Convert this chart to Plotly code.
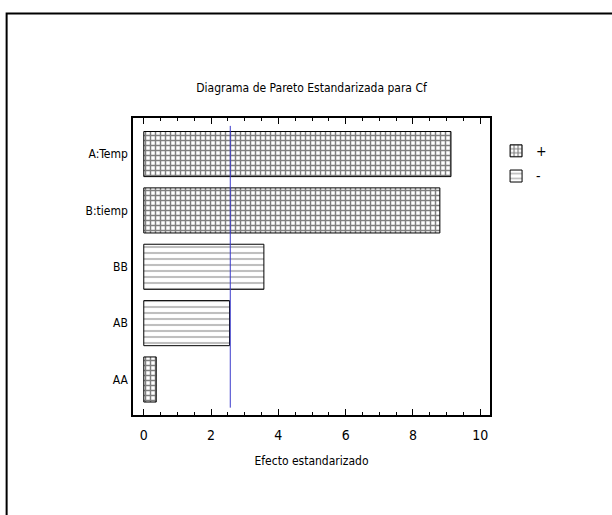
import plotly.graph_objects as go

# Data
categories = ["A:Temp", "B:tiemp", "BB", "AB", "AA"]
effects = [9.13, 8.80, 3.57, 2.55, 0.37]
signs = ["+", "+", "-", "-", "+"]
critical_value = 2.571
x_ticks = [0, 2, 4, 6, 8, 10]

FONT = "DejaVu Sans Condensed, Liberation Sans Narrow, Arial Narrow, Liberation Sans, sans-serif"

fig = go.Figure()

pattern_style = {
    "+": dict(shape="+", fgcolor="#000000", bgcolor="white", size=5, solidity=0.5),
    "-": dict(shape="-", fgcolor="#808080", bgcolor="white", size=6, solidity=0.35),
}

for s in ["+", "-"]:
    ys = [c for c, sg in zip(categories, signs) if sg == s]
    xs = [v for v, sg in zip(effects, signs) if sg == s]
    fig.add_trace(go.Bar(
        x=xs, y=ys, orientation="h", name=s, width=0.8, legendgroup=s,
        marker=dict(color="white", line=dict(color="black", width=1),
                    pattern=pattern_style[s]),
    ))

# critical value line
fig.add_shape(type="line", xref="x", yref="y", x0=critical_value, x1=critical_value,
              y0=-0.5, y1=4.5, line=dict(color="#3a3acc", width=1))

# outer frame
fig.add_shape(type="rect", xref="paper", yref="paper", x0=-0.354, x1=1.6, y0=-0.6, y1=1.352,
              line=dict(color="black", width=2), layer="below")

fig.update_layout(
    width=612, height=515,
    margin=dict(l=132.5, r=122, t=117.7, b=100, pad=0),
    paper_bgcolor="white", plot_bgcolor="white",
    barmode="overlay",
    font=dict(family=FONT, size=12, color="black"),
    title=dict(text="Diagrama de Pareto Estandarizada para Cf", x=0.5, xref="paper",
               y=1 - 88 / 515, yanchor="middle", xanchor="center",
               font=dict(family=FONT, size=12, color="black")),
    showlegend=True,
    legend=dict(x=1.017, y=0.942, xanchor="left", yanchor="top", bgcolor="rgba(0,0,0,0)",
                font=dict(family=FONT, size=14), traceorder="grouped", tracegroupgap=4),
    xaxis=dict(range=[-0.32, 10.29], tickvals=x_ticks, showline=True, linecolor="black",
               linewidth=1.5, mirror="ticks", ticks="inside", ticklen=6, tickcolor="black",
               showgrid=False, zeroline=False, ticklabelstandoff=6,
               minor=dict(dtick=0.5, tick0=0, ticks="inside", ticklen=3, tickcolor="black"),
               title=dict(text="Efecto estandarizado", standoff=15,
                          font=dict(family=FONT, size=12)),
               tickfont=dict(family=FONT, size=14)),
    yaxis=dict(type="category", categoryorder="array", categoryarray=categories,
               range=[4.63, -0.64], showline=True, linecolor="black", linewidth=1.5,
               mirror=True, ticks="", showgrid=False, zeroline=False,
               tickfont=dict(family=FONT, size=12), ticklabelstandoff=1),
)

fig.write_html("out.html", config={"displayModeBar": False},
               post_script="document.body.style.margin='0';document.body.style.overflow='hidden';")
